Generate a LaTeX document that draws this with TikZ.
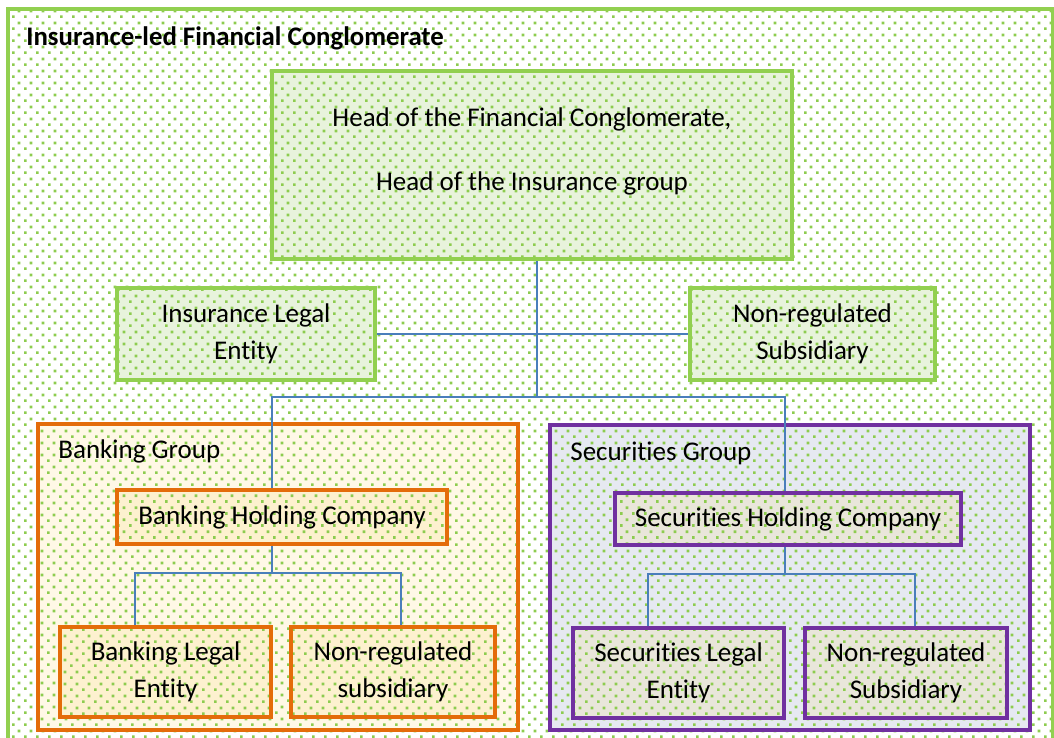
\documentclass[tikz,border=0pt]{standalone}
\usepackage{fontspec}
\setmainfont{Carlito}[Ligatures=CommonOff]
\usetikzlibrary{patterns.meta}

\definecolor{fcgreen}{HTML}{92D050}
\definecolor{dotgreen}{HTML}{8DCC4F}
\definecolor{bankorange}{HTML}{E46C0A}
\definecolor{secpurple}{HTML}{7030A0}
\definecolor{linkblue}{HTML}{4A7EBB}
\definecolor{insfill}{HTML}{E8F3DC}
\definecolor{bankfill}{HTML}{FFF8E6}
\definecolor{bankbox}{HTML}{FDF1CF}
\definecolor{secfill}{HTML}{E6E9F1}
\definecolor{secbox}{HTML}{E9E6DA}

\tikzdeclarepattern{
  name=greendots, type=colored,
  bottom left={(0pt,0pt)}, top right={(5.85pt,5.85pt)},
  tile size={(5.85pt,5.85pt)},
  code={
    \fill[dotgreen] (0pt,0pt) rectangle (1.4pt,1.4pt);
    \fill[dotgreen] (2.925pt,2.925pt) rectangle (4.325pt,4.325pt);
  }
}

\tikzset{
  txt/.style={font=\fontsize{13.5}{18.5}\selectfont, align=center, inner sep=0pt},
  insbox/.style={txt, draw=fcgreen, line width=2.2pt, preaction={fill=insfill}, pattern=greendots},
  groupbox/.style={draw=#1, line width=2.3pt, pattern=greendots},
  bankbx/.style={txt, draw=bankorange, line width=2.3pt, preaction={fill=bankbox}, pattern=greendots},
  secbx/.style={txt, draw=secpurple, line width=2.3pt, preaction={fill=secbox}, pattern=greendots},
  link/.style={draw=linkblue, line width=0.75pt}
}

\begin{document}
\begin{tikzpicture}[x=0.5pt, y=-0.5pt]
  \useasboundingbox (0,0) rectangle (1054,738);
  \clip (0,0) rectangle (1054,738);
  \draw[fcgreen, line width=2pt, preaction={fill=white}, pattern=greendots] (7.5,9) rectangle (1053,760);
  \node[txt, anchor=west, font=\fontsize{13.4}{16}\selectfont\bfseries] (title) at (26,38) {Insurance-led Financial Conglomerate};

  % insurance part
  \node[insbox, minimum width=260pt, minimum height=94pt] (head) at (532,165)
    {Head of the Financial Conglomerate,\\[13.5pt]Head of the Insurance group\\[-3pt]\mbox{}};
  \node[insbox, minimum width=129pt, minimum height=46pt] (ins) at (246,334) {Insurance Legal\\Entity};
  \node[insbox, minimum width=122.5pt, minimum height=46pt] (nonreg) at (812.5,334) {Non-regulated\\Subsidiary};

  % banking group
  \node[groupbox=bankorange, preaction={fill=bankfill}, minimum width=240pt, minimum height=153pt] (bank) at (278,577) {};
  \node[txt, anchor=west] (banklbl) at (58,451) {Banking Group};
  \node[bankbx, minimum width=165pt, minimum height=27pt] (bhc) at (282,517) {Banking Holding Company};
  \node[bankbx, minimum width=105.5pt, minimum height=45pt] (ble) at (165.5,672) {Banking Legal\\Entity};
  \node[bankbx, minimum width=102pt, minimum height=45pt] (bnr) at (393,672) {Non-regulated\\subsidiary};

  % securities group
  \node[groupbox=secpurple, preaction={fill=secfill}, minimum width=240pt, minimum height=152.5pt] (sec) at (790,577.5) {};
  \node[txt, anchor=west] (seclbl) at (570,453) {Securities Group};
  \node[secbx, minimum width=173pt, minimum height=26pt] (shc) at (788,519) {Securities Holding Company};
  \node[secbx, minimum width=105.5pt, minimum height=45pt] (sle) at (678.5,673) {Securities Legal\\Entity};
  \node[secbx, minimum width=101pt, minimum height=45pt] (snr) at (906,673) {Non-regulated\\Subsidiary};

  % connectors
  \coordinate (hub) at (537,397);
  \coordinate (bk) at (272,397);
  \coordinate (sc) at (785,397);
  \coordinate (bj) at (272,573);
  \coordinate (bl) at (135,573);
  \coordinate (br) at (401,573);
  \coordinate (sj) at (785,574);
  \coordinate (sl) at (648,574);
  \coordinate (sr) at (915,574);
  \draw[link] (head.south -| hub) -- (hub);
  \draw[link] (ins.east) -- (nonreg.west);
  \draw[link] (bhc.north -| bk) -- (bk) -- (sc) -- (shc.north -| sc);
  \draw[link] (bhc.south -| bj) -- (bj);
  \draw[link] (ble.north -| bl) -- (bl) -- (br) -- (bnr.north -| br);
  \draw[link] (shc.south -| sj) -- (sj);
  \draw[link] (sle.north -| sl) -- (sl) -- (sr) -- (snr.north -| sr);
\end{tikzpicture}
\end{document}
